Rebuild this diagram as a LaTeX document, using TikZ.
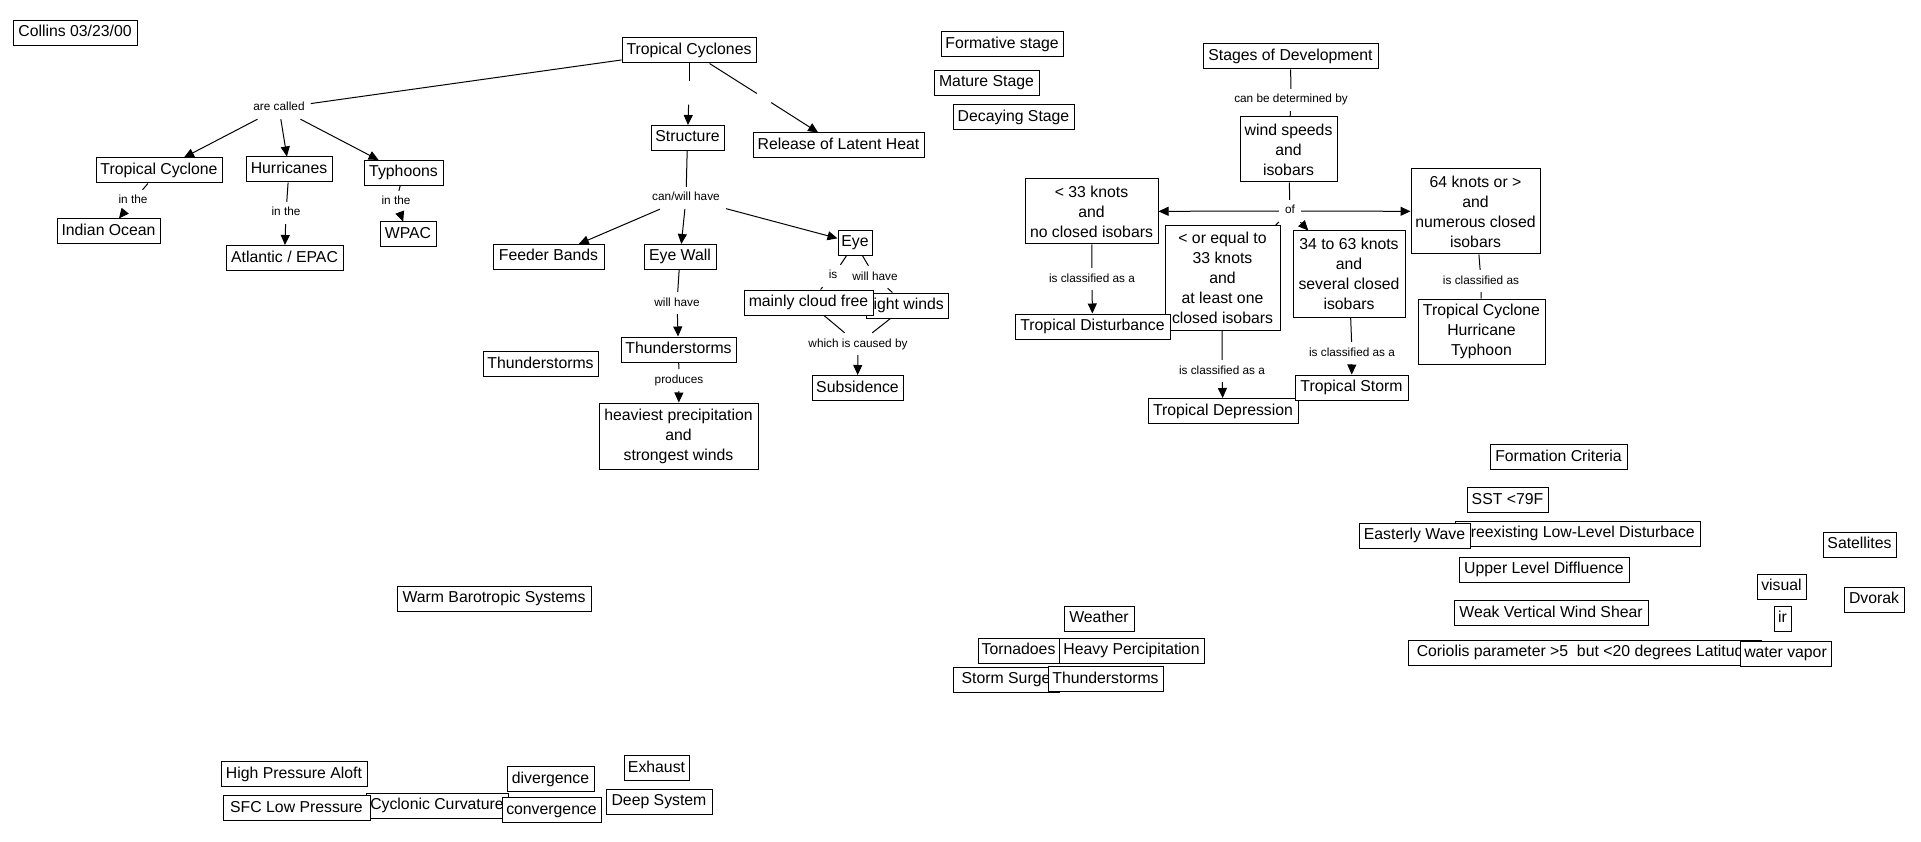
\documentclass[tikz,border=0pt]{standalone}
\usepackage{fontspec}
\setmainfont{Liberation Sans}
\usetikzlibrary{arrows.meta}
\begin{document}
\begin{tikzpicture}[x=1pt,y=-1pt,
  base/.style={draw, fill=white, line width=1pt, font=\fontsize{15.8}{20}\selectfont, align=center, inner xsep=2pt},
  con/.style={base, inner ysep=4pt, text height=11.5pt, text depth=3.5pt, minimum height=25pt},
  conm/.style={base, inner ysep=2pt},
  lab/.style={font=\fontsize{11.8}{14}\selectfont, inner xsep=6pt, inner ysep=5pt, text height=9pt, text depth=3pt},
  gapnode/.style={inner sep=0pt},
  ln/.style={line width=1pt},
  ar/.style={line width=1pt, -{Triangle[length=10pt,width=9pt]}},
]
\fill[white] (0,0) rectangle (1921,842);
\useasboundingbox (0,0) rectangle (1921,842);

% ---------- left part ----------
\node[con,minimum width=124pt] (collins) at (75,33) {Collins 03/23/00};
\node[con,minimum width=134pt] (tcs) at (689,50.5) {Tropical Cyclones};
\node[con,minimum width=126pt] (tc1) at (159,170.5) {Tropical Cyclone};
\node[con,minimum width=86pt] (hur) at (289,169.5) {Hurricanes};
\node[con,minimum width=79pt] (typ) at (403.5,173) {Typhoons};
\node[con,minimum width=103pt] (io) at (108.5,231.5) {Indian Ocean};
\node[con,minimum width=117pt] (atl) at (284.5,258) {Atlantic / EPAC};
\node[con,minimum width=56pt] (wpac) at (408,234.5) {WPAC};
\node[con,minimum width=73pt] (str) at (687.5,138) {Structure};
\node[con,minimum width=171pt] (rlh) at (838.5,145.5) {Release of Latent Heat};
\node[con,minimum width=111pt] (fb) at (548.5,257) {Feeder Bands};
\node[con,minimum width=72pt] (ew) at (680,257) {Eye Wall};
\node[con,minimum width=34pt] (eye) at (855,243) {Eye};
\node[con,minimum width=82pt] (lw) at (907,305.5) {light winds};
\node[con,minimum width=129pt] (mcf) at (808.5,302.5) {mainly cloud free};
\node[con,minimum width=91pt] (sub) at (857.5,388) {Subsidence};
\node[con,minimum width=115pt] (ts) at (678.5,349.5) {Thunderstorms};
\node[conm,minimum width=159pt,minimum height=66pt] (hp) at (678.5,436) {heaviest precipitation\\and\\strongest winds};
\node[con,minimum width=115pt] (ts2) at (540.5,364) {Thunderstorms};
\node[con,minimum width=194pt] (wbs) at (494,598.5) {Warm Barotropic Systems};
\node[con,minimum width=146pt] (hpa) at (294,774) {High Pressure Aloft};
\node[con,minimum width=142pt] (cc) at (437,805.5) {Cyclonic Curvature};
\node[con,minimum width=147pt] (sfc) at (296.5,808) {SFC Low Pressure};
\node[con,minimum width=87pt] (div) at (550.5,779) {divergence};
\node[con,minimum width=99pt] (conv) at (551.5,810) {convergence};
\node[con,minimum width=65pt] (exh) at (656.5,768) {Exhaust};
\node[con,minimum width=106pt] (deep) at (659,801.5) {Deep System};

% ---------- middle ----------
\node[con,minimum width=122pt] (form) at (1002,44.5) {Formative stage};
\node[con,minimum width=105pt] (mat) at (986.5,83) {Mature Stage};
\node[con,minimum width=121pt] (dec) at (1013.5,117.5) {Decaying Stage};
\node[con,minimum width=70pt] (wea) at (1099,618.5) {Weather};
\node[con,minimum width=81pt] (tor) at (1018.5,650.5) {Tornadoes};
\node[con,minimum width=145pt] (hvp) at (1131.5,650.5) {Heavy Percipitation};
\node[con,minimum width=106pt] (ss) at (1006,679.5) {Storm Surge};
\node[con,minimum width=115pt] (ts3) at (1105.5,679) {Thunderstorms};

% ---------- right part ----------
\node[con,minimum width=175pt] (sod) at (1290.5,56.5) {Stages of Development};
\node[conm,minimum width=97pt,minimum height=65pt] (ws) at (1288.5,149.5) {wind speeds\\and\\isobars};
\node[conm,minimum width=133pt,minimum height=65pt] (lt33) at (1091.5,211.5) {< 33 knots\\and\\no closed isobars};
\node[conm,minimum width=115pt,minimum height=104pt] (le33) at (1222.5,278) {< or equal to\\33 knots\\and\\at least one\\closed isobars};
\node[conm,minimum width=112pt,minimum height=86pt] (k3463) at (1349,274) {34 to 63 knots\\and\\several closed\\isobars};
\node[conm,minimum width=129pt,minimum height=85pt] (k64) at (1475.5,211.5) {64 knots or >\\and\\numerous closed\\isobars};
\node[con,minimum width=155pt] (tdist) at (1092.5,326.5) {Tropical Disturbance};
\node[con,minimum width=150pt] (tdep) at (1223,411) {Tropical Depression};
\node[con,minimum width=113pt] (tstorm) at (1351.5,387.5) {Tropical Storm};
\node[conm,minimum width=127pt,minimum height=65pt] (tcht) at (1481.5,331.5) {Tropical Cyclone\\Hurricane\\Typhoon};

\node[con,minimum width=137pt] (fc) at (1558.5,457) {Formation Criteria};
\node[con,minimum width=81pt] (sst) at (1507.5,500) {SST <79F};
\node[con,minimum width=245pt] (pre) at (1577.5,533.5) {Preexisting Low-Level Disturbace};
\node[con,minimum width=111pt] (eas) at (1414.5,535.5) {Easterly Wave};
\node[con,minimum width=170pt] (uld) at (1544,569.5) {Upper Level Diffluence};
\node[con,minimum width=194pt] (wvws) at (1551,613) {Weak Vertical Wind Shear};
\node[con,minimum width=353pt] (cor) at (1584.5,652.5) {Coriolis parameter >5\ \ but <20 degrees Latitude};
\node[con,minimum width=91pt] (wv) at (1785.5,653.5) {water vapor};
\node[con,minimum width=49pt] (vis) at (1781.5,586.5) {visual};
\node[con,minimum width=17pt] (ir) at (1782.5,618.5) {ir};
\node[con,minimum width=73pt] (sat) at (1859.5,544.5) {Satellites};
\node[con,minimum width=60pt] (dvo) at (1874,599.5) {Dvorak};

% ---------- linking phrases ----------
\node[lab] (lcalled) at (279,108) {are called};
\node[lab] (lin1) at (133,201) {in the};
\node[lab] (lin2) at (286,213) {in the};
\node[lab] (lin3) at (396,202) {in the};
\node[gapnode,minimum width=8pt,minimum height=23pt] (le1) at (689,93) {};
\node[gapnode,minimum width=14pt,minimum height=10pt] (le2) at (764,98) {};
\node[lab] (lcan) at (686,198) {can/will have};
\node[lab] (lwh1) at (677,303) {will have};
\node[lab] (lprod) at (679,380) {produces};
\node[lab] (lis) at (833,276) {is};
\node[lab] (lwh2) at (875,277) {will have};
\node[lab] (lwhich) at (858,344) {which is caused by};
\node[lab] (lcbd) at (1291,100) {can be determined by};
\node[lab] (lof) at (1290,211) {of};
\node[lab] (lcl1) at (1092,279) {is classified as a};
\node[lab] (lcl2) at (1222,371) {is classified as a};
\node[lab] (lcl3) at (1352,353) {is classified as a};
\node[lab] (lcl4) at (1481,281) {is classified as};

% ---------- connectors ----------
\draw[ln] (tcs) -- (lcalled);
\draw[ar] (lcalled) -- (tc1);
\draw[ar] (lcalled) -- (hur);
\draw[ar] (lcalled) -- (typ);
\draw[ln] (tc1) -- (lin1);  \draw[ar] (lin1) -- (io);
\draw[ln] (hur) -- (lin2);  \draw[ar] (lin2) -- (atl);
\draw[ln] (typ) -- (lin3);  \draw[ar] (lin3) -- (wpac);
\draw[ln] (tcs) -- (le1);   \draw[ar] (le1) -- (str);
\draw[ln] (tcs) -- (le2);   \draw[ar] (le2) -- (rlh);
\draw[ln] (str) -- (lcan);
\draw[ar] (lcan) -- (fb);
\draw[ar] (lcan) -- (ew);
\draw[ar] (lcan) -- (eye);
\draw[ln] (ew) -- (lwh1);   \draw[ar] (lwh1) -- (ts);
\draw[ln] (ts) -- (lprod);  \draw[ar] (lprod) -- (hp);
\draw[ln] (eye) -- (lis);   \draw[ln] (lis) -- (mcf);
\draw[ln] (eye) -- (lwh2);  \draw[ln] (lwh2) -- (lw);
\draw[ln] (mcf) -- (lwhich);
\draw[ln] (lw) -- (lwhich);
\draw[ar] (lwhich) -- (sub);

\draw[ln] (sod) -- (lcbd);  \draw[ln] (lcbd) -- (ws);
\draw[ln] (ws) -- (lof);
\draw[ar] (lof) -- (lt33);
\draw[ln] (lof) -- (le33);
\draw[ar] (lof) -- (k3463);
\draw[ar] (lof) -- (k64);
\draw[ln] (lt33) -- (lcl1);  \draw[ar] (lcl1) -- (tdist);
\draw[ln] (le33) -- (lcl2);  \draw[ar] (lcl2) -- (tdep);
\draw[ln] (k3463) -- (lcl3); \draw[ar] (lcl3) -- (tstorm);
\draw[ln] (k64) -- (lcl4);   \draw[ln] (lcl4) -- (tcht);
\end{tikzpicture}
\end{document}
